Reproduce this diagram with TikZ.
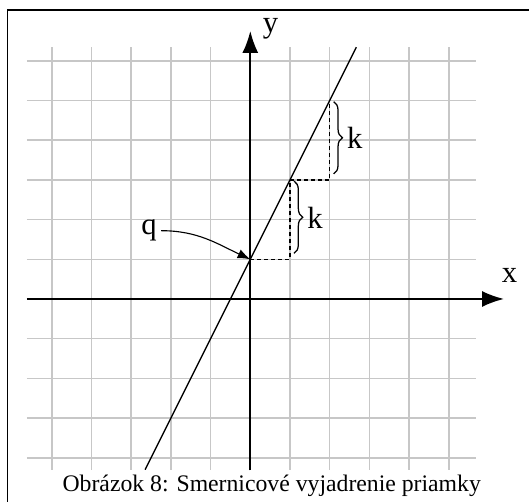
\documentclass[tikz,border=0pt]{standalone}
\usepackage{fontspec}
\setmainfont{Liberation Serif}
\usetikzlibrary{positioning,arrows.meta,decorations.pathreplacing}

\tikzset{
  axis/.style={line width=1.3pt, -{Latex[length=5.5mm,width=4mm]}},
  helpline/.style={line width=0.9pt, dash pattern=on 3pt off 2pt},
  kbrace/.style={decorate, decoration={brace, amplitude=2.2mm}, line width=0.9pt},
  lbl/.style={font=\fontsize{22}{26}\selectfont, inner sep=3pt},
}

\begin{document}
\begin{tikzpicture}
  \useasboundingbox (-6.305,-5.113) rectangle (7.020,7.531);
  \draw[line width=1pt] (-6.12,-5.3) -- (-6.12,7.28) -- (7.2,7.28); % frame
  \draw[black!22, line width=1.1pt, step=1] (-5.63,-4.3) grid (5.68,6.35);

  \coordinate (xs) at (-5.63,0);
  \coordinate (xe) at (6.39,0);
  \coordinate (ys) at (0,-4.32);
  \coordinate (ye) at (0,6.75);
  \draw[axis] (xs) -- (xe);
  \draw[axis] (ys) -- (ye);
  \node[lbl] (xlab) at (6.53,0.59) {x};
  \node[lbl] (ylab) at (0.51,6.8) {y};

  \coordinate (ls) at (-2.65,-4.3);
  \coordinate (le) at (2.67,6.34);
  \draw[line width=0.9pt] (ls) -- (le);

  \coordinate (q0) at (0,1);
  \coordinate (c1) at (1,1);
  \coordinate (p1) at (1,3);
  \coordinate (c2) at (2,3);
  \coordinate (p2) at (2,5);
  \draw[helpline] (q0) -- (c1) -- (p1);
  \draw[helpline] (p1) -- (c2) -- (p2);

  \draw[kbrace] (1.1,2.97) -- (1.1,1.15);
  \draw[kbrace] (2.1,4.97) -- (2.1,3.15);
  \node[lbl] (k1) at (1.63,2.05) {k};
  \node[lbl] (k2) at (2.63,4.05) {k};

  \node[lbl] (q) at (-2.55,1.72) {q};
  \draw[line width=0.8pt, -{Latex[length=3.2mm,width=2.4mm]}] (q.east) to[out=0,in=155] (q0);

  \node[font=\fontsize{17}{20}\selectfont, anchor=base] (cap) at (0.54,-4.85) {Obrázok 8: Smernicové vyjadrenie priamky};
\end{tikzpicture}
\end{document}
